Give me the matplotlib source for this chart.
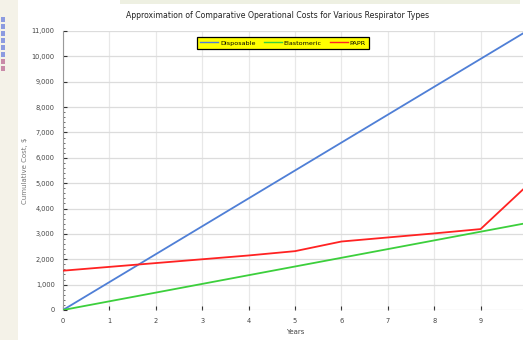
import matplotlib
matplotlib.use("Agg")
import matplotlib.pyplot as plt
from matplotlib.patches import Rectangle
from matplotlib.ticker import FuncFormatter, MultipleLocator, FixedLocator

# Data (cumulative cost in $ per year).
years = [0, 1, 2, 3, 4, 5, 6, 7, 8, 9, 10]
disposable = [0, 1100, 2200, 3300, 4400, 5500, 6600, 7700, 8800, 9900, 11000]
elastomeric = [0, 343, 686, 1029, 1372, 1715, 2058, 2401, 2744, 3087, 3430]
papr = [1550, 1700, 1850, 2000, 2150, 2320, 2700, 2860, 3020, 3190, 4900]

series_names = ["Disposable", "Elastomeric", "PAPR"]
series_colors = ["#4f7fd6", "#3ccf3c", "#ff2222"]

plt.rcParams["font.family"] = "DejaVu Sans"

W, H = 523, 340
fig = plt.figure(figsize=(W / 100, H / 100), dpi=100)
fig.patch.set_facecolor("white")

# Background strip of the page the screenshot was taken from.
fig.patches.append(Rectangle((0, 0), 18 / W, 1, transform=fig.transFigure,
                             facecolor="#f4f2e8", edgecolor="none", zorder=0))
for i in range(8):
    fig.patches.append(Rectangle((1 / W, 1 - (22 + i * 7) / H), 4 / W, 5 / H,
                                 transform=fig.transFigure,
                                 facecolor="#8c9be0" if i < 6 else "#c98aa8",
                                 edgecolor="none", zorder=1))
fig.patches.append(Rectangle((120 / W, 1 - 4 / H), 400 / W, 4 / H,
                             transform=fig.transFigure,
                             facecolor="#eef0e2", edgecolor="none", zorder=0))

x0, x10 = 63, 527
y0, ytop = 310, 31
ax = fig.add_axes([x0 / W, 1 - y0 / H, (x10 - x0) / W, (y0 - ytop) / H])
ax.set_xlim(0, 10)
ax.set_ylim(0, 11000)

for vals, name, col in zip([disposable, elastomeric, papr], series_names, series_colors):
    ax.plot(years, vals, color=col, lw=1.3, label=name, zorder=3)

ax.xaxis.set_major_locator(MultipleLocator(1))
ax.yaxis.set_major_locator(MultipleLocator(1000))
ax.yaxis.set_minor_locator(FixedLocator([v for v in range(200, 7900, 200) if v % 1000]))
ax.yaxis.set_major_formatter(FuncFormatter(lambda v, p: f"{int(v):,}"))
ax.xaxis.set_major_formatter(FuncFormatter(lambda v, p: f"{int(v)}" if v < 10 else ""))

ax.grid(True, axis="y", which="major", color="#dcdcdc", lw=0.9, zorder=0)
ax.grid(True, axis="x", which="major", color="#e8e8e8", lw=0.9, zorder=0)
for s in ["top", "right", "bottom"]:
    ax.spines[s].set_visible(False)
ax.spines["left"].set_color("#9a9a9a")
ax.spines["left"].set_linewidth(0.8)

ax.tick_params(axis="both", which="major", direction="in", length=3, width=0.8,
               color="#333333", labelsize=4.8, labelcolor="#444444", pad=6)
ax.tick_params(axis="y", which="minor", direction="in", length=1.2, width=0.6,
               color="#555555")

ax.set_xlabel("Years", fontsize=5, color="#444444", labelpad=3)
ax.set_ylabel("Cumulative Cost, $", fontsize=5, color="#777777")
ax.yaxis.set_label_coords((28 - x0) / (x10 - x0), 0.5)
fig.text(278 / W, 1 - 15 / H,
         "Approximation of Comparative Operational Costs for Various Respirator Types",
         ha="center", va="center", fontsize=5.6, color="#222222")

leg = ax.legend(loc="center", bbox_to_anchor=(((283 - x0) / (x10 - x0)), (y0 - 43) / (y0 - ytop)),
                ncol=3, fontsize=4.6, frameon=True, fancybox=False, shadow=False,
                handlelength=2.8, handletextpad=0.3, columnspacing=1.3,
                borderpad=0.5, borderaxespad=0)
frame = leg.get_frame()
frame.set_facecolor("#ffff00")
frame.set_edgecolor("#000000")
frame.set_linewidth(0.9)
frame.set_alpha(1)
for line in leg.get_lines():
    line.set_linewidth(1.0)

fig.savefig("out.png", dpi=100)
